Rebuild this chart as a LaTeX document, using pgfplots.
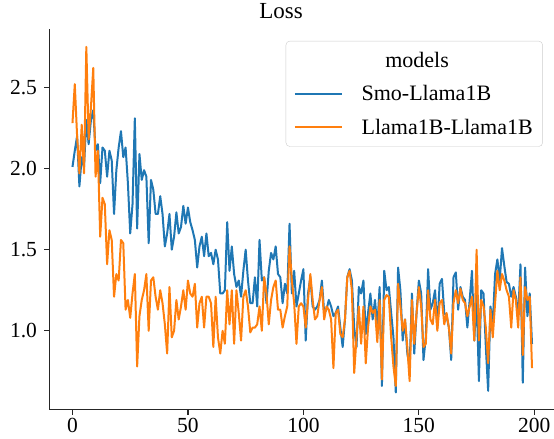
\documentclass[border=0pt]{standalone}
\usepackage{fontspec}
\setmainfont{Liberation Serif}
\usepackage{pgfplots}
\pgfplotsset{compat=1.18}
\usepackage{pgfplotstable}
\definecolor{tabblue}{HTML}{1F77B4}
\definecolor{taborange}{HTML}{FF7F0E}

\pgfplotstableread{
x y
0 2.01
1 2.11
2 2.20
3 1.89
4 2.07
5 2.01
6 2.30
7 2.15
8 2.30
9 2.36
10 2.11
11 2.15
12 1.91
13 2.13
14 2.11
15 1.95
16 2.11
17 2.05
18 1.72
19 1.99
20 2.13
21 2.23
22 2.07
23 2.13
24 1.91
25 1.60
26 1.78
27 2.31
28 1.63
29 2.09
30 1.93
31 1.99
32 1.95
33 1.54
34 1.93
35 1.87
36 1.72
37 1.72
38 1.83
39 1.72
40 1.52
41 1.60
42 1.72
43 1.50
44 1.58
45 1.73
46 1.60
47 1.64
48 1.77
49 1.66
50 1.76
51 1.67
52 1.62
53 1.56
54 1.39
55 1.52
56 1.58
57 1.46
58 1.60
59 1.46
60 1.48
61 1.41
62 1.50
63 1.44
64 1.23
65 1.23
66 1.25
67 1.67
68 1.37
69 1.52
70 1.35
71 1.27
72 1.31
73 1.21
74 1.37
75 1.50
76 1.31
77 1.17
78 1.17
79 1.33
80 1.15
81 1.56
82 1.31
83 1.33
84 1.17
85 1.37
86 1.48
87 1.44
88 1.52
89 1.35
90 1.33
91 1.17
92 1.29
93 1.23
94 1.66
95 1.23
96 1.37
97 1.15
98 1.23
99 1.31
100 1.38
101 0.94
102 1.23
103 1.33
104 1.15
105 1.13
106 1.15
107 1.19
108 1.31
109 1.11
110 1.13
111 1.19
112 1.15
113 1.09
114 1.11
115 1.15
116 1.02
117 0.90
118 1.07
119 1.33
120 1.38
121 1.31
122 1.02
123 0.90
124 1.27
125 1.23
126 1.31
127 0.98
128 1.11
129 1.23
130 1.07
131 1.19
132 1.02
133 1.27
134 0.66
135 1.37
136 1.25
137 1.27
138 1.11
139 0.96
140 0.62
141 1.39
142 1.25
143 0.94
144 1.07
145 0.86
146 0.78
147 1.23
148 0.86
149 1.11
150 1.31
151 1.23
152 0.82
153 0.96
154 1.38
155 1.13
156 1.17
157 1.25
158 1.02
159 1.29
160 1.32
161 1.11
162 1.09
163 1.02
164 0.82
165 1.33
166 1.36
167 1.13
168 1.27
169 1.21
170 1.19
171 1.02
172 1.19
173 1.37
174 0.94
175 1.23
176 0.69
177 1.25
178 1.23
179 0.90
180 0.63
181 1.15
182 1.04
183 1.35
184 1.44
185 1.31
186 1.51
187 1.40
188 1.30
189 1.29
190 1.21
191 1.27
192 1.21
193 1.09
194 1.41
195 0.68
196 1.39
197 1.09
198 1.23
199 0.92
}\smo

\pgfplotstableread{
x y
0 2.28
1 2.52
2 2.20
3 1.97
4 2.27
5 1.97
6 2.75
7 2.18
8 2.38
9 2.62
10 1.95
11 2.11
12 1.58
13 1.82
14 1.78
15 1.41
16 1.62
17 1.56
18 1.21
19 1.35
20 1.31
21 1.56
22 1.54
23 1.13
24 1.19
25 1.08
26 1.23
27 1.35
28 0.78
29 1.09
30 1.19
31 1.25
32 1.35
33 1.00
34 1.31
35 1.33
36 1.21
37 1.13
38 1.25
39 1.17
40 1.04
41 0.86
42 1.27
43 0.96
44 1.00
45 1.19
46 1.07
47 1.15
48 1.25
49 1.13
50 1.31
51 1.23
52 1.21
53 1.29
54 1.02
55 1.17
56 1.21
57 1.02
58 1.21
59 1.21
60 1.17
61 0.90
62 1.21
63 0.96
64 0.86
65 1.00
66 0.92
67 1.25
68 1.04
69 1.25
70 0.92
71 1.25
72 1.11
73 0.94
74 1.21
75 1.25
76 1.15
77 0.99
78 1.02
79 1.02
80 1.04
81 1.15
82 1.00
83 1.33
84 1.23
85 1.04
86 1.19
87 1.27
88 1.31
89 1.13
90 1.13
91 1.02
92 1.09
93 1.15
94 1.52
95 1.31
96 1.17
97 0.92
98 1.15
99 1.17
100 1.15
101 1.02
102 1.19
103 1.35
104 1.19
105 1.07
106 1.09
107 1.19
108 1.27
109 1.07
110 1.15
111 1.13
112 1.07
113 0.77
114 1.11
115 1.13
116 0.98
117 0.96
118 1.07
119 1.33
120 1.37
121 1.25
122 0.74
123 0.96
124 1.15
125 0.92
126 1.15
127 0.80
128 1.02
129 1.15
130 1.11
131 1.13
132 0.93
133 1.19
134 0.70
135 1.19
136 1.22
137 1.21
138 0.96
139 0.78
140 0.66
141 1.29
142 1.15
143 1.00
144 1.07
145 0.90
146 0.69
147 1.19
148 0.92
149 1.11
150 1.27
151 1.15
152 0.90
153 0.92
154 1.25
155 1.07
156 1.04
157 1.19
158 1.00
159 1.17
160 1.19
161 1.04
162 1.11
163 1.02
164 0.86
165 1.17
166 1.25
167 1.17
168 1.26
169 1.19
170 1.17
171 1.09
172 1.15
173 1.21
174 0.94
175 1.50
176 0.94
177 1.19
178 1.15
179 1.02
180 0.80
181 1.13
182 0.96
183 1.17
184 1.37
185 1.25
186 1.35
187 1.31
188 1.25
189 1.21
190 1.02
191 1.25
192 1.19
193 1.02
194 1.33
195 0.85
196 1.27
197 1.19
198 1.21
199 0.77
}\llama

\begin{document}
\begin{tikzpicture}
\path[use as bounding box] (-49.5bp,-29.5bp) rectangle (504.5bp,409.5bp);
\begin{axis}[
  at={(0,0)}, anchor=south west,
  scale only axis, width=505.5bp, height=380.8bp,
  xmin=-9.95, xmax=208.95, ymin=0.515, ymax=2.862,
  axis x line*=bottom, axis y line*=left,
  axis line style={-, black!85, line width=1.2bp},
  tick align=outside, major tick length=5bp,
  tick style={black!85, line width=1.2bp},
  xtick={0,50,100,150,200}, ytick={1.0,1.5,2.0,2.5},
  /pgf/number format/assume math mode=true,
  yticklabel style={xshift=-4bp, /pgf/number format/.cd, fixed, fixed zerofill, precision=1},
  ticklabel style={font=\fontsize{21.5bp}{24bp}\selectfont},
  title={Loss},
  title style={at={(rel axis cs:0.458,1)}, anchor=base, yshift=4.5bp, font=\fontsize{23bp}{26bp}\selectfont},
  legend style={at={(rel axis cs:0.976,0.968)}, anchor=north east, draw=black!20, rounded corners=4bp, fill=white, font=\fontsize{22bp}{25bp}\selectfont, row sep=13bp, column sep=17bp, inner xsep=8bp, inner ysep=9bp, cells={anchor=west, inner xsep=0bp, inner ysep=0bp, text height=15bp, text depth=5bp}},
  legend image code/.code={\draw[#1, line width=2bp] (0bp,0bp) -- (46.7bp,0bp);},
  no markers,
]
\addlegendimage{empty legend}
\addlegendentry{\hspace*{23.7bp}models}
\addplot[tabblue, line width=2bp, line join=round] table[x=x,y=y]{\smo};
\addlegendentry{Smo-Llama1B}
\addplot[taborange, line width=2bp, line join=round] table[x=x,y=y]{\llama};
\addlegendentry{Llama1B-Llama1B}
\end{axis}
\end{tikzpicture}
\end{document}
